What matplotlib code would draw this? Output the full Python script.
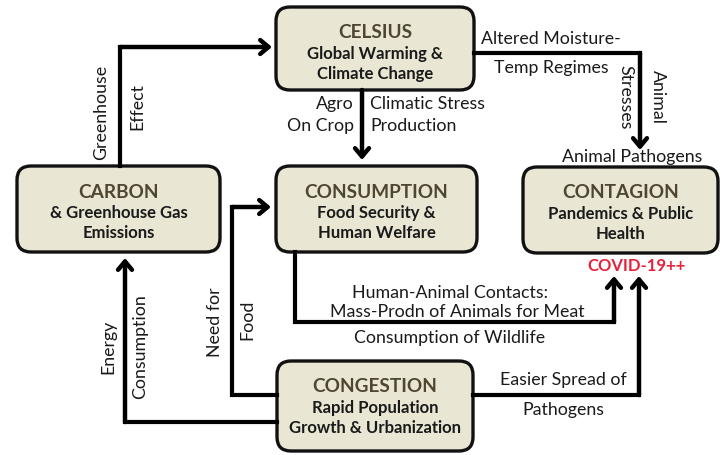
import matplotlib.pyplot as plt
from matplotlib.patches import FancyBboxPatch

plt.rcParams['font.family'] = ['Lato', 'DejaVu Sans']

# box texts
titles = ["CELSIUS", "CARBON", "CONSUMPTION", "CONTAGION", "CONGESTION"]
subtitles = [
    ["Global Warming &", "Climate Change"],
    ["& Greenhouse Gas", "Emissions"],
    ["Food Security &", "Human Welfare"],
    ["Pandemics & Public", "Health"],
    ["Rapid Population", "Growth & Urbanization"],
]
# box geometry in pixels: left, top, right, bottom
boxes = [
    (276, 7, 474, 90),
    (17, 166, 220, 252),
    (276, 166, 477, 252),
    (523, 167, 718, 253),
    (277, 361, 473, 451),
]

# connectors: polyline points, last segment gets an arrow head
paths = [
    [(120, 166), (120, 47), (272, 47)],              # greenhouse effect
    [(362, 90), (362, 160)],                          # agro climatic stress
    [(474, 53), (640, 53), (640, 150)],               # moisture-temp
    [(295, 252), (295, 322), (614, 322), (614, 276)], # human-animal contacts
    [(473, 395), (639, 395), (639, 276)],             # easier spread
    [(277, 422), (125, 422), (125, 258)],             # energy consumption
    [(277, 395), (232, 395), (232, 207), (271, 207)], # need for food
]

labels = [
    ("Greenhouse", 101, 112, 90, "center"),
    ("Effect", 137, 107, 90, "center"),
    ("Agro", 354, 104, 0, "right"),
    ("On Crop", 354, 126, 0, "right"),
    ("Climatic Stress", 370, 104, 0, "left"),
    ("Production", 370, 126, 0, "left"),
    ("Altered Moisture-", 481, 39, 0, "left"),
    ("Temp Regimes", 494, 68, 0, "left"),
    ("Stresses", 625, 97, -90, "center"),
    ("Animal", 658, 97, -90, "center"),
    ("Animal Pathogens", 632, 157, 0, "center"),
    ("Human-Animal Contacts:", 450, 293, 0, "center"),
    ("Mass-Prodn of Animals for Meat", 457, 312, 0, "center"),
    ("Consumption of Wildlife", 450, 338, 0, "center"),
    ("Easier Spread of", 563, 380, 0, "center"),
    ("Pathogens", 563, 410, 0, "center"),
    ("Energy", 108, 347, 90, "center"),
    ("Consumption", 140, 347, 90, "center"),
    ("Need for", 215, 322, 90, "center"),
    ("Food", 247, 320, 90, "center"),
]

fig = plt.figure(figsize=(7.23, 4.55), dpi=100)
ax = fig.add_axes([0, 0, 1, 1])
ax.set_xlim(0, 723)
ax.set_ylim(455, 0)
ax.axis('off')

for (l, t, r, b), title, sub in zip(boxes, titles, subtitles):
    patch = FancyBboxPatch((l, t), r - l, b - t,
                           boxstyle="round,pad=0,rounding_size=14",
                           facecolor="#e9e7d3", edgecolor="#111111", linewidth=2.4)
    ax.add_patch(patch)
    cx = (l + r) / 2
    ax.text(cx, t + 26, title, ha="center", va="center", fontsize=13.7,
            fontweight="bold", color="#4f4630")
    ax.text(cx, t + 47, sub[0], ha="center", va="center", fontsize=12,
            fontweight="bold", color="#1a1a1a")
    ax.text(cx, t + 67, sub[1], ha="center", va="center", fontsize=12,
            fontweight="bold", color="#1a1a1a")

for pts in paths:
    xs = [p[0] for p in pts]
    ys = [p[1] for p in pts]
    ax.plot(xs[:-1], ys[:-1], color="black", lw=3, solid_capstyle="projecting",
            solid_joinstyle="miter")
    ax.annotate("", xy=pts[-1], xytext=pts[-2],
                arrowprops=dict(arrowstyle="->,head_length=0.6,head_width=0.5",
                                color="black", lw=3.2, shrinkA=0, shrinkB=0))

for txt, x, y, rot, ha in labels:
    ax.text(x, y, txt, ha=ha, va="center", rotation=rot, fontsize=12.8,
            color="#1a1a1a")

ax.text(637, 266, "COVID-19++", ha="center", va="center", fontsize=12,
        fontweight="bold", color="#e8203a")

fig.savefig("out.png", dpi=100)
